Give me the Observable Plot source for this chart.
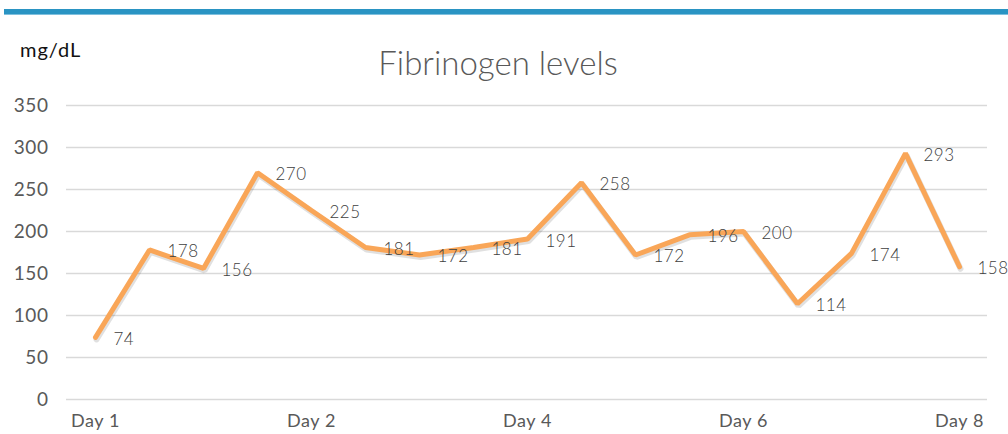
<!DOCTYPE html>
<html>
<head>
<meta charset="utf-8">
<script src="https://cdn.jsdelivr.net/npm/d3@7"></script>
<script src="https://cdn.jsdelivr.net/npm/@observablehq/plot@0.6"></script>
<style>
  html, body { margin: 0; padding: 0; background: #fff; }
  #wrap { position: relative; width: 1008px; height: 434px; overflow: hidden; font-family: Lato, "Open Sans", sans-serif; }
  #bar { position: absolute; left: 4px; top: 9px; width: 1004px; height: 5px; background: #2a94c3; border-bottom: 1px solid #7fc0de; }
  #unit { position: absolute; left: 20px; top: 37px; font-size: 20px; letter-spacing: 0.05em; color: #111; }
  #title { position: absolute; left: 0; width: 996px; top: 42px; text-align: center; font-size: 33px; font-weight: 300; color: #595959; }
  #chart { position: absolute; left: 0; top: 0; }
  #chart svg text { letter-spacing: 0.03em; }
</style>
</head>
<body>
<div id="wrap">
  <div id="chart"></div>
  <div id="bar"></div>
  <div id="unit">mg/dL</div>
  <div id="title">Fibrinogen levels</div>
</div>
<script>
const tickLabels = ["Day 1", "", "", "", "Day 2", "", "", "", "Day 4", "", "", "", "Day 6", "", "", "", "Day 8"];
const values = [74, 178, 156, 270, 225, 181, 172, 181, 191, 258, 172, 196, 200, 114, 174, 293, 158];
const yTicks = [0, 50, 100, 150, 200, 250, 300, 350];

const data = values.map((v, i) => ({i, v}));

const chart = Plot.plot({
  width: 1008,
  height: 434,
  marginTop: 105,
  marginBottom: 35,
  marginLeft: 66,
  marginRight: 21,
  style: { fontFamily: "Lato, 'Open Sans', sans-serif", fontSize: "17px", color: "#595959", background: "transparent" },
  x: { type: "point", domain: d3.range(values.length), padding: 0.5, label: null },
  y: { domain: [0, 350], label: null },
  marks: [
    Plot.gridY(yTicks, { stroke: "#d9d9d9", strokeOpacity: 1, strokeWidth: 1.6 }),
    Plot.axisY(yTicks, { tickSize: 0, tickPadding: 18, fontSize: 19, fill: "#595959", label: null }),
    Plot.axisX(d3.range(values.length), { tickSize: 0, tickPadding: 15, fontSize: 18, fill: "#595959", tickFormat: i => tickLabels[i], label: null }),
    Plot.line(data, { x: "i", y: "v", stroke: "#000", strokeOpacity: 0.12, strokeWidth: 6, dx: 1, dy: 2, strokeLinejoin: "miter" }),
    Plot.line(data, { x: "i", y: "v", stroke: "#f9a658", strokeWidth: 5, strokeLinejoin: "miter" }),
    Plot.text(data, { x: "i", y: "v", text: d => String(d.v), dx: 18, dy: 2, textAnchor: "start", fontSize: 17, fontWeight: 300, fill: "#404040" })
  ]
});
document.getElementById("chart").appendChild(chart);
</script>
</body>
</html>
